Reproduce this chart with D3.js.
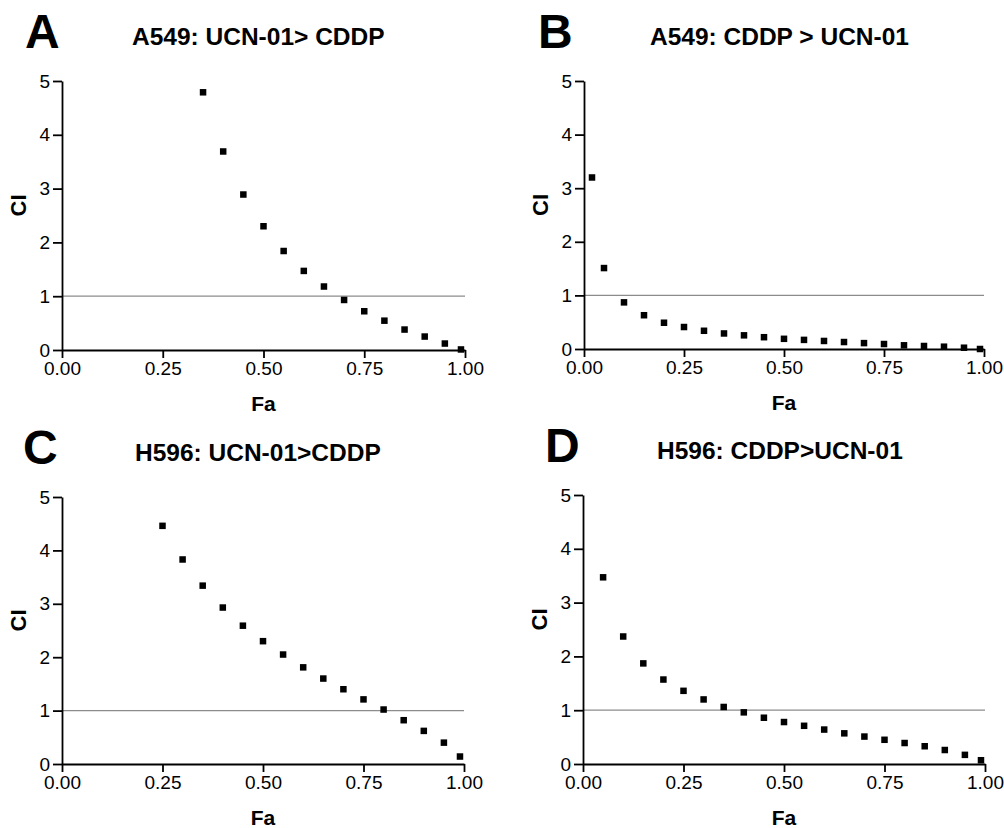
<!DOCTYPE html>
<html>
<head>
<meta charset="utf-8">
<script src="https://cdn.jsdelivr.net/npm/d3@7"></script>
<style>
    html, body { margin: 0; padding: 0; background: #ffffff; }
    svg { display: block; font-family: "Liberation Sans", Arial, Helvetica, sans-serif; }
    .axis path, .axis line { stroke: #000000; stroke-width: 1.8px; }
    .axis text { font-size: 19px; fill: #000000; }
</style>
</head>
<body>
<svg id="chart" width="1004" height="828"></svg>
<script>
/* =========================================================
   Data (Fa vs combination index)
   ========================================================= */

const FA_A = [0.35, 0.40, 0.45, 0.50, 0.55, 0.60, 0.65, 0.70, 0.75, 0.80, 0.85, 0.90, 0.95, 0.99];
const CI_A = [4.79, 3.69, 2.89, 2.30, 1.84, 1.47, 1.18, 0.93, 0.72, 0.545, 0.38, 0.25, 0.12, 0.01];

const FA_B = [0.02, 0.05, 0.10, 0.15, 0.20, 0.25, 0.30, 0.35, 0.40, 0.45, 0.50,
              0.55, 0.60, 0.65, 0.70, 0.75, 0.80, 0.85, 0.90, 0.95, 0.99];
const CI_B = [3.20, 1.51, 0.87, 0.63, 0.49, 0.41, 0.34, 0.29, 0.255, 0.22, 0.19,
              0.17, 0.15, 0.13, 0.11, 0.093, 0.069, 0.056, 0.043, 0.024, 0.0];

const FA_C = [0.25, 0.30, 0.35, 0.40, 0.45, 0.50, 0.55, 0.60, 0.65, 0.70, 0.75, 0.80, 0.85, 0.90, 0.95, 0.99];
const CI_C = [4.46, 3.83, 3.34, 2.93, 2.59, 2.30, 2.05, 1.81, 1.60, 1.40, 1.21, 1.02, 0.82, 0.62, 0.40, 0.14];

const FA_D = [0.05, 0.10, 0.15, 0.20, 0.25, 0.30, 0.35, 0.40, 0.45, 0.50,
              0.55, 0.60, 0.65, 0.70, 0.75, 0.80, 0.85, 0.90, 0.95, 0.99];
const CI_D = [3.47, 2.37, 1.87, 1.57, 1.36, 1.20, 1.06, 0.96, 0.86, 0.78,
              0.71, 0.64, 0.57, 0.51, 0.45, 0.39, 0.33, 0.26, 0.17, 0.07];

const X_TICKS = [0, 0.25, 0.5, 0.75, 1.0];
const Y_TICKS = [0, 1, 2, 3, 4, 5];
const REF_CI  = 1;

/* =========================================================
   Panel layout
   ========================================================= */

const PANELS = [
    { letter: "A", title: "A549: UCN-01> CDDP", fa: FA_A, ci: CI_A,
      left: 62,  right: 465, top: 81,  bottom: 350, letterX: 25,  titleX: 132 },
    { letter: "B", title: "A549: CDDP > UCN-01", fa: FA_B, ci: CI_B,
      left: 584, right: 984, top: 81,  bottom: 349, letterX: 538, titleX: 650 },
    { letter: "C", title: "H596: UCN-01>CDDP", fa: FA_C, ci: CI_C,
      left: 62,  right: 464, top: 497, bottom: 764, letterX: 23,  titleX: 135 },
    { letter: "D", title: "H596: CDDP>UCN-01", fa: FA_D, ci: CI_D,
      left: 583, right: 985, top: 495, bottom: 764, letterX: 545, titleX: 657 }
];

const MARK_SIZE = 6.5;

const svg = d3.select("#chart");

/* =========================================================
   Panel renderer
   ========================================================= */

function renderPanel(p) {
    const g = svg.append("g");

    const x = d3.scaleLinear().domain([0, 1]).range([p.left, p.right]);
    const y = d3.scaleLinear().domain([0, 5]).range([p.bottom, p.top]);

    // panel letter and title
    g.append("text")
        .attr("x", p.letterX)
        .attr("y", p.top - 33)
        .attr("font-size", 48)
        .attr("font-weight", 700)
        .text(p.letter);

    g.append("text")
        .attr("x", p.titleX)
        .attr("y", p.top - 36)
        .attr("font-size", 24.5)
        .attr("font-weight", 700)
        .text(p.title);

    // reference line CI = 1
    g.append("line")
        .attr("x1", x(0))
        .attr("x2", x(1))
        .attr("y1", y(REF_CI))
        .attr("y2", y(REF_CI))
        .attr("stroke", "#8c8c8c")
        .attr("stroke-width", 1.2);

    // axes
    g.append("g")
        .attr("class", "axis")
        .attr("transform", `translate(${p.left},0)`)
        .call(d3.axisLeft(y).tickValues(Y_TICKS).tickSize(9).tickSizeOuter(0).tickPadding(3)
            .tickFormat(d3.format("d")));

    g.append("g")
        .attr("class", "axis")
        .attr("transform", `translate(0,${p.bottom})`)
        .call(d3.axisBottom(x).tickValues(X_TICKS).tickSize(8).tickSizeOuter(0).tickPadding(4)
            .tickFormat(d3.format(".2f")));

    // axis titles
    g.append("text")
        .attr("x", (p.left + p.right) / 2)
        .attr("y", p.bottom + 61)
        .attr("text-anchor", "middle")
        .attr("font-size", 21)
        .attr("font-weight", 700)
        .text("Fa");

    g.append("text")
        .attr("transform", `translate(${p.left - 36},${(p.top + p.bottom) / 2 - 10}) rotate(-90)`)
        .attr("text-anchor", "middle")
        .attr("font-size", 22)
        .attr("font-weight", 700)
        .text("CI");

    // data points
    g.selectAll("rect.pt")
        .data(p.fa.map((f, i) => [f, p.ci[i]]))
        .enter()
        .append("rect")
        .attr("class", "pt")
        .attr("x", d => x(d[0]) - MARK_SIZE / 2)
        .attr("y", d => y(d[1]) - MARK_SIZE / 2)
        .attr("width", MARK_SIZE)
        .attr("height", MARK_SIZE)
        .attr("fill", "#000000");
}

PANELS.forEach(renderPanel);
</script>
</body>
</html>
